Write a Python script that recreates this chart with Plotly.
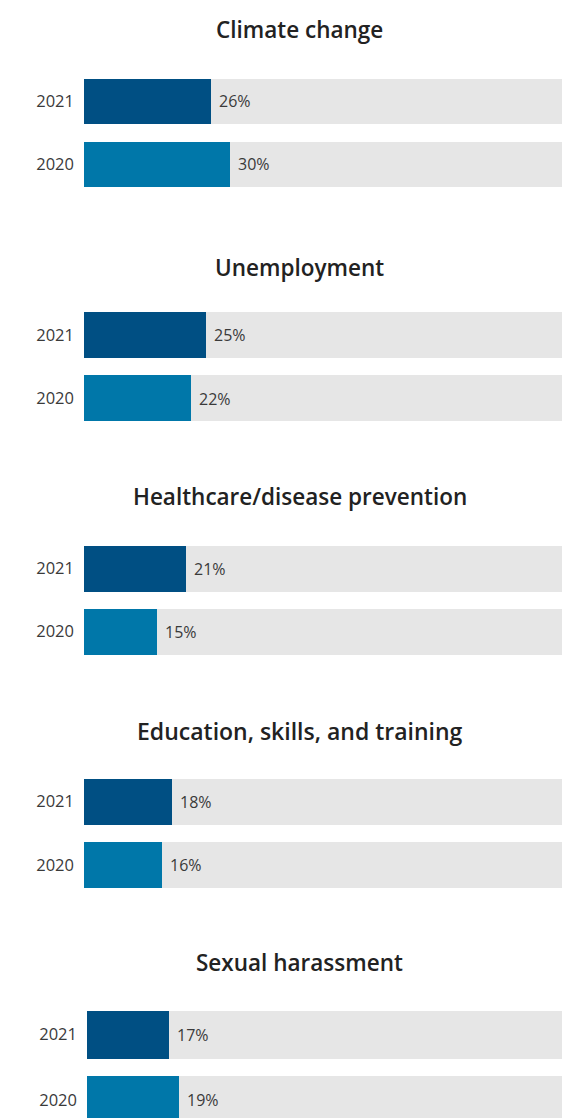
import plotly.graph_objects as go

# ---- data ----
issues = ["Climate change", "Unemployment", "Healthcare/disease prevention",
          "Education, skills, and training", "Sexual harassment"]
years = ["2020", "2021"]
share_2021 = [26, 25, 21, 18, 17]
share_2020 = [30, 22, 15, 16, 19]
full_scale = [100, 100, 100, 100, 100]

# ---- layout (pixels) ----
W, H = 562, 1118
row_2021_center = [101, 335, 568.5, 801.5, 1034.5]
row_pitch = [63, 63.5, 63, 63.5, 65.5]
plot_left = [84, 84, 84, 84, 87]
title_y = [29, 267, 497, 731, 962]
title_size = [22.5, 22.5, 22.5, 23, 22.5]
px_per_pct = [4.88, 4.88, 4.88, 4.88, 4.84]

C2021 = "#004f83"
C2020 = "#0077a9"
GREY = "#e6e6e6"
FONT = "Open Sans"
TXT = "#3a3a3a"

fig = go.Figure()
annotations = []
layout = {}

for i in range(5):
    n = "" if i == 0 else str(i + 1)
    xa, ya = "x" + n, "y" + n
    vals = [share_2020[i], share_2021[i]]
    fig.add_trace(go.Bar(
        x=[full_scale[i], full_scale[i]], y=years, orientation="h",
        marker=dict(color=GREY, line=dict(width=0)), width=0.73,
        xaxis=xa, yaxis=ya, hoverinfo="skip", showlegend=False))
    fig.add_trace(go.Bar(
        x=vals, y=years, orientation="h",
        marker=dict(color=[C2020, C2021], line=dict(width=0)), width=0.73,
        xaxis=xa, yaxis=ya, showlegend=False))
    for k, v in enumerate(vals):
        annotations.append(dict(
            x=v, y=k, xref=xa, yref=ya, text=f"{v}%",
            showarrow=False, xanchor="left", yanchor="middle", xshift=6,
            font=dict(family=FONT, size=16, color=TXT)))
    top = row_2021_center[i] - row_pitch[i] / 2
    bot = min(top + 2 * row_pitch[i], H)
    y_low = 1.5 - (bot - top) / row_pitch[i]
    x0 = plot_left[i]
    layout["xaxis" + n] = dict(
        domain=[x0 / W, 1], range=[0, (W - x0) / px_per_pct[i]],
        visible=False, anchor=ya, fixedrange=True)
    layout["yaxis" + n] = dict(
        domain=[max(0, 1 - bot / H), 1 - top / H], range=[y_low, 1.5],
        type="category", categoryorder="array", categoryarray=years,
        anchor=xa, showgrid=False, zeroline=False, showline=False,
        ticks="", ticklabelstandoff=9,
        tickfont=dict(family=FONT, size=16.5, color=TXT))
    annotations.append(dict(
        x=300 / W, y=1 - title_y[i] / H, xref="paper", yref="paper",
        text=issues[i], showarrow=False, xanchor="center", yanchor="middle",
        font=dict(family=FONT, size=title_size[i], color="#222222", weight=600)))

fig.update_layout(
    width=W, height=H, margin=dict(l=0, r=0, t=0, b=0),
    paper_bgcolor="white", plot_bgcolor="white",
    barmode="overlay", bargap=0, annotations=annotations, **layout)

fig.write_html("out.html", config={"displayModeBar": False})
